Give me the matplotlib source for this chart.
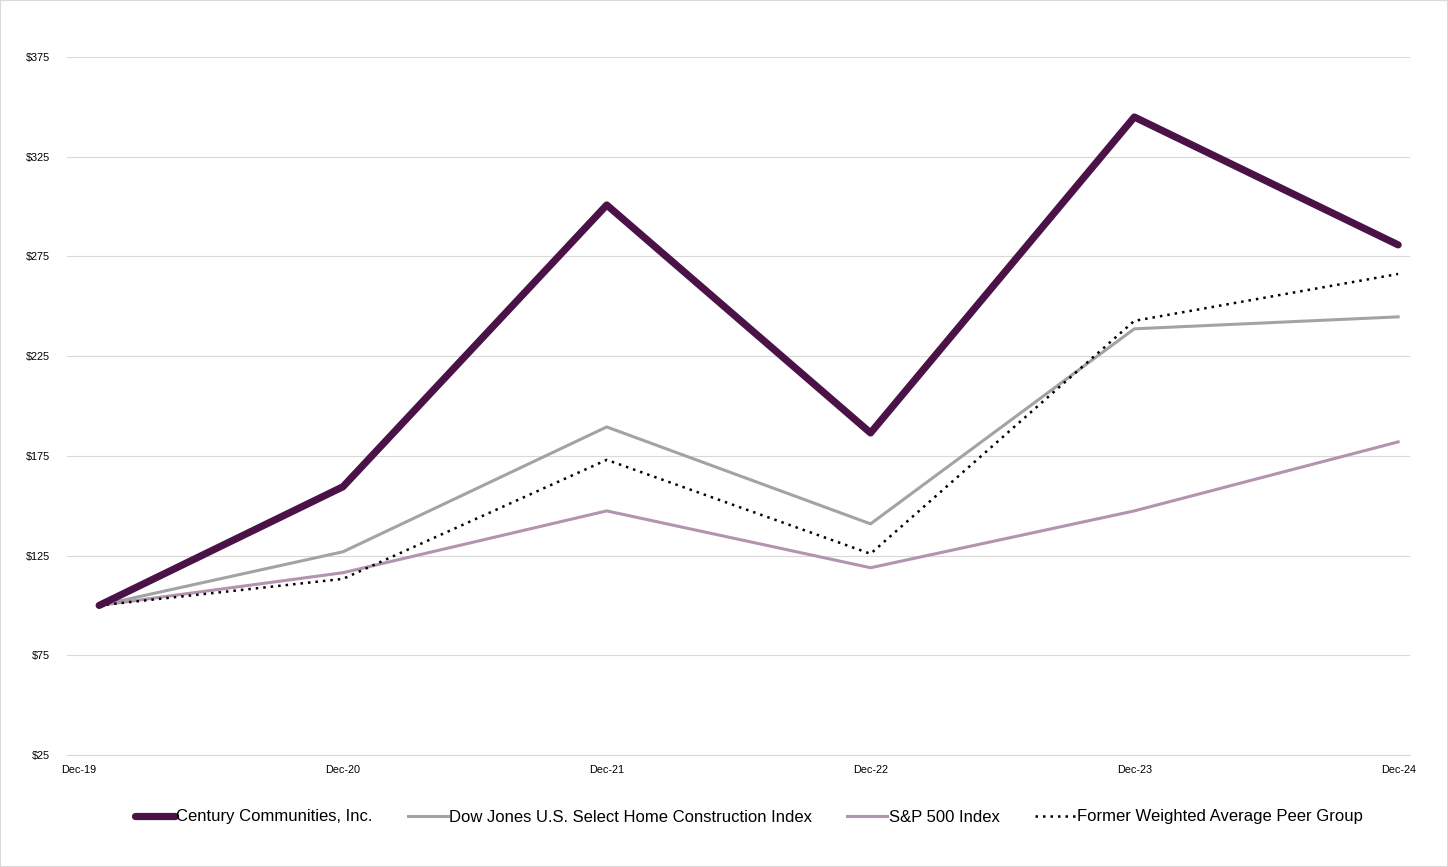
import matplotlib
matplotlib.use("Agg")
import matplotlib.pyplot as plt
from matplotlib.patches import Rectangle

plt.rcParams["font.family"] = ["Liberation Sans", "DejaVu Sans"]

# %% data (cumulative total return on $100 invested)
periods = ["Dec-19", "Dec-20", "Dec-21", "Dec-22", "Dec-23", "Dec-24"]
x_data = [0.076, 1, 2, 3, 4, 5]
century = [100, 159.5, 300.8, 186.5, 344.9, 280.8]
dow_jones = [100, 126.9, 189.5, 140.9, 238.7, 244.7]
sp500 = [100, 116.4, 147.4, 118.9, 147.4, 182.0]
peer_group = [100, 113.3, 173.0, 125.9, 242.7, 266.2]
y_ticks = [25, 75, 125, 175, 225, 275, 325, 375]

# %% plot
fig = plt.figure(figsize=(14.48, 8.67), dpi=100)
ax = fig.add_axes([67 / 1448, 1 - 755 / 867, (1410 - 67) / 1448, (755 - 57) / 867])

ax.plot(x_data, century, color="#4A1247", lw=5.2, solid_capstyle="round",
        label="Century Communities, Inc.", zorder=5)
ax.plot(x_data, dow_jones, color="#A3A3A3", lw=2.2, label="Dow Jones U.S. Select Home Construction Index", zorder=3)
ax.plot(x_data, sp500, color="#B294AF", lw=2.2, label="S&P 500 Index", zorder=3)
ax.plot(x_data, peer_group, color="black", lw=1.8, linestyle=(0, (1, 2)),
        label="Former Weighted Average Peer Group", zorder=4)

ax.set_xlim(-0.046, 5.045)
ax.set_ylim(25, 375)
ax.set_yticks(y_ticks)
ax.set_yticklabels([f"${v}" for v in y_ticks])
ax.set_xticks(range(len(periods)))
ax.set_xticklabels(periods)
ax.grid(axis="y", color="#D9D9D9", lw=0.8)
ax.set_axisbelow(True)
for side in ["top", "right", "left"]:
    ax.spines[side].set_visible(False)
ax.spines["bottom"].set_color("#D9D9D9")
ax.tick_params(axis="both", length=0, labelsize=7.8, colors="black")
ax.tick_params(axis="x", pad=7)
ax.tick_params(axis="y", pad=12)
for line in ax.get_lines():
    line.set_clip_on(False)

fig.legend(loc="center", bbox_to_anchor=(0.517, 1 - 817 / 867), ncol=4, frameon=False,
           fontsize=12, handlelength=2.4, handletextpad=0.1, columnspacing=2.1)

fig.add_artist(Rectangle((0, 0), 1, 1, transform=fig.transFigure, fill=False,
                         edgecolor="#D9D9D9", lw=1.5))

fig.savefig("out.png", dpi=100)
